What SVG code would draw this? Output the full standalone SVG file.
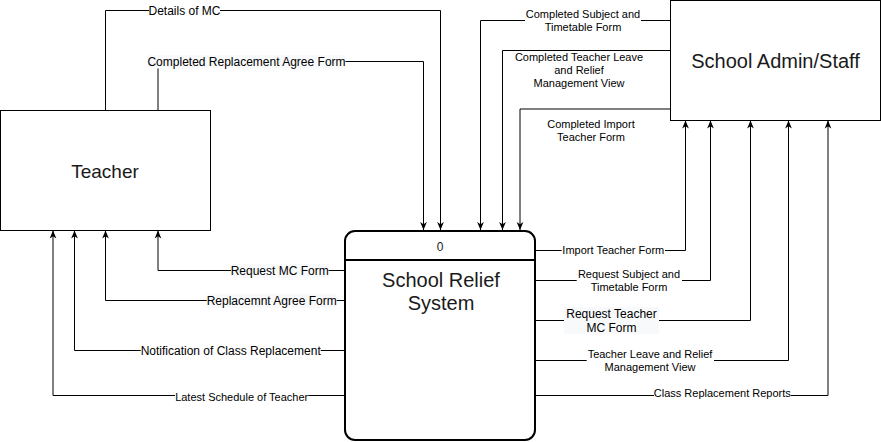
<svg xmlns="http://www.w3.org/2000/svg" width="881" height="442" viewBox="0 0 881 442">
<style>
.box{fill:#fff;stroke:#000;stroke-width:1}
.proc{fill:#fff;stroke:#000;stroke-width:2}
.title{font-family:"Liberation Sans",Arial,sans-serif;fill:#1a1a1a;text-anchor:middle}
.e{fill:none;stroke:#000;stroke-width:1}
.lbl{font-family:"Liberation Sans",Arial,sans-serif;fill:#000;text-anchor:middle;font-size:11px}
.l12{font-size:12px}
.bg{fill:#fff}
.bt{fill:#f8f9fa}
</style>
<defs>
<marker id="arr" viewBox="0 0 10 10" refX="10" refY="5" markerWidth="8" markerHeight="8" markerUnits="userSpaceOnUse" orient="auto">
<path d="M0,0.8 L10,5 L0,9.2 L2.8,5 Z" fill="#000"/>
</marker>
</defs>

<g id="teacher">
<rect class="box" x="0.5" y="110.5" width="210" height="120"/>
<text class="title" x="105" y="177.5" font-size="19">Teacher</text>
</g>

<g id="admin">
<rect class="box" x="670.5" y="0.5" width="210" height="120"/>
<text class="title" x="775.5" y="67.5" font-size="20">School Admin/Staff</text>
</g>

<g id="process">
<rect class="proc" x="345" y="231" width="190" height="209" rx="10" ry="10"/>
<line x1="345" y1="260" x2="535" y2="260" stroke="#000" stroke-width="2"/>
<text class="title" x="440" y="251" font-size="12">0</text>
<text class="title" x="441" y="287" font-size="20">School Relief</text>
<text class="title" x="441" y="310" font-size="20">System</text>
</g>

<g id="connectors">
<path class="e" d="M105.5,110.5 V10.5 H440.5 V230" marker-end="url(#arr)"/>
<path class="e" d="M158,110.5 V61.5 H423.5 V230" marker-end="url(#arr)"/>
<path class="e" d="M670.5,20.5 H480.5 V230" marker-end="url(#arr)"/>
<path class="e" d="M670.5,50.5 H502.5 V230" marker-end="url(#arr)"/>
<path class="e" d="M670.5,109 H520 V230" marker-end="url(#arr)"/>

<path class="e" d="M345,270.5 H158 V230.5" marker-end="url(#arr)"/>
<path class="e" d="M345,300.5 H105.5 V230.5" marker-end="url(#arr)"/>
<path class="e" d="M345,350.5 H74.5 V230.5" marker-end="url(#arr)"/>
<path class="e" d="M345,395.5 H53 V230.5" marker-end="url(#arr)"/>

<path class="e" d="M535,250.5 H685.5 V120.5" marker-end="url(#arr)"/>
<path class="e" d="M535,280.5 H710.5 V120.5" marker-end="url(#arr)"/>
<path class="e" d="M535,320.5 H750.5 V120.5" marker-end="url(#arr)"/>
<path class="e" d="M535,360.5 H788.5 V120.5" marker-end="url(#arr)"/>
<path class="e" d="M535,395.5 H828 V120.5" marker-end="url(#arr)"/>

<!-- labels -->
<rect class="bg" x="149" y="3" width="71" height="15"/>
<text class="lbl l12" x="184.5" y="14.5">Details of MC</text>

<rect class="bt" x="147.5" y="55" width="198" height="13.5"/>
<text class="lbl l12" x="246.5" y="65.5">Completed Replacement Agree Form</text>

<rect class="bg" x="525" y="7" width="116" height="27"/>
<text class="lbl" x="583" y="18.3">Completed Subject and</text>
<text class="lbl" x="583" y="31">Timetable Form</text>

<text class="lbl" x="579" y="61.3">Completed Teacher Leave</text>
<text class="lbl" x="579" y="74.3">and Relief</text>
<text class="lbl" x="579" y="87.3">Management View</text>

<text class="lbl" x="591" y="128.3">Completed Import</text>
<text class="lbl" x="591" y="141">Teacher Form</text>

<rect class="bt" x="231" y="264" width="97.5" height="14"/>
<text class="lbl l12" x="279.7" y="275">Request MC Form</text>

<rect class="bt" x="206.7" y="294" width="130" height="14"/>
<text class="lbl l12" x="271.7" y="304.8">Replacemnt Agree Form</text>

<rect class="bg" x="140.7" y="344" width="180" height="14"/>
<text class="lbl l12" x="230.7" y="355">Notification of Class Replacement</text>

<rect class="bg" x="175" y="389" width="133.3" height="14"/>
<text class="lbl" x="241.7" y="401">Latest Schedule of Teacher</text>

<rect class="bg" x="561.7" y="244" width="103.3" height="14"/>
<text class="lbl" x="613.3" y="254.3">Import Teacher Form</text>

<rect class="bg" x="576.7" y="267" width="105.3" height="26"/>
<text class="lbl" x="629" y="278">Request Subject and</text>
<text class="lbl" x="629" y="291">Timetable Form</text>

<rect class="bt" x="564" y="307" width="95" height="27"/>
<text class="lbl l12" x="611.5" y="318.3">Request Teacher</text>
<text class="lbl l12" x="611.5" y="331.6">MC Form</text>

<rect class="bg" x="586.7" y="347" width="127.3" height="26"/>
<text class="lbl" x="650" y="358.3">Teacher Leave and Relief</text>
<text class="lbl" x="650" y="371">Management View</text>

<rect class="bg" x="654" y="387" width="136.7" height="14"/>
<text class="lbl" x="722.3" y="397.3">Class Replacement Reports</text>
</g>
</svg>
